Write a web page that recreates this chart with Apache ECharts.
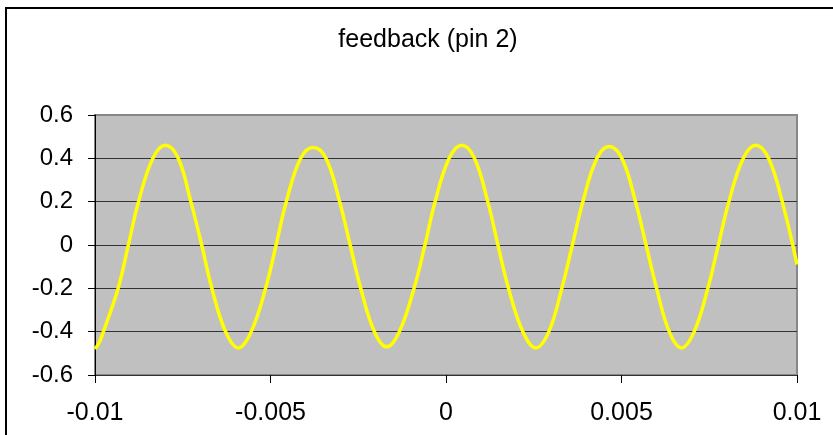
<!DOCTYPE html>
<html>
<head>
<meta charset="utf-8">
<script src="https://cdn.jsdelivr.net/npm/echarts@6/dist/echarts.min.js"></script>
<style>
  html, body { margin: 0; padding: 0; background: #fff; }
  #main { width: 833px; height: 435px; }
</style>
</head>
<body>
<div id="main"></div>
<script>
// time (s) and voltage points
var times = [
  -0.0100, -0.00988, -0.00976, -0.00934, -0.00905, -0.00876, -0.00835, -0.00799, -0.00763, -0.00727,
  -0.00696, -0.00667, -0.00628, -0.00592, -0.00555, -0.00514, -0.00484, -0.00455, -0.00414,
  -0.00378, -0.00342, -0.00303, -0.00273, -0.00243, -0.00204, -0.00169, -0.00133, -0.00091,
  -0.00060, -0.00031, 0.00009, 0.00045, 0.00081, 0.00119, 0.00148, 0.00178, 0.00219,
  0.00256, 0.00293, 0.00330, 0.00360, 0.00390, 0.00430, 0.00465, 0.00501, 0.00540,
  0.00570, 0.00600, 0.00636, 0.00671, 0.00707, 0.00746, 0.00776, 0.00806, 0.00847,
  0.00883, 0.00919, 0.00958, 0.0100
];
var volts = [
  -0.48, -0.45, -0.40, -0.20, 0.00, 0.20, 0.40, 0.46, 0.40, 0.20,
  0.00, -0.20, -0.40, -0.475, -0.40, -0.20, 0.00, 0.20, 0.40,
  0.45, 0.40, 0.20, 0.00, -0.20, -0.40, -0.47, -0.40, -0.20,
  0.00, 0.20, 0.40, 0.46, 0.40, 0.20, 0.00, -0.20, -0.40,
  -0.475, -0.40, -0.20, 0.00, 0.20, 0.40, 0.455, 0.40, 0.20,
  0.00, -0.20, -0.40, -0.475, -0.40, -0.20, 0.00, 0.20, 0.40,
  0.46, 0.40, 0.20, -0.09
];
var title = 'feedback (pin 2)';

var pts = [];
for (var i = 0; i < times.length; i++) {
  pts.push([times[i], volts[i]]);
}

var chart = echarts.init(document.getElementById('main'), null, { renderer: 'canvas' });

var font = 'Liberation Sans, Arial, sans-serif';

var option = {
  animation: false,
  backgroundColor: '#fff',
  title: {
    text: title,
    left: 423,
    top: 23,
    textAlign: 'center',
    textStyle: { fontFamily: font, fontSize: 25, fontWeight: 'normal', color: '#000' }
  },
  graphic: [{
    type: 'rect',
    shape: { x: 6, y: 8, width: 900, height: 500 },
    style: { fill: 'none', stroke: '#000', lineWidth: 2 },
    z: 100
  }],
  grid: {
    left: 95, right: 36, top: 115, bottom: 60,
    show: true,
    backgroundColor: '#c0c0c0',
    borderColor: '#888',
    borderWidth: 2
  },
  xAxis: {
    type: 'value',
    min: -0.01, max: 0.01, interval: 0.005,
    axisLine: { show: true, onZero: false, lineStyle: { color: '#333', width: 1 } },
    axisTick: { show: true, inside: false, length: 8, lineStyle: { color: '#000' } },
    axisLabel: { margin: 26, fontFamily: font, fontSize: 25, color: '#000' },
    splitLine: { show: false }
  },
  yAxis: {
    type: 'value',
    min: -0.6, max: 0.6, interval: 0.2,
    axisLine: { show: true, onZero: false, lineStyle: { color: '#000', width: 1 } },
    axisTick: { show: true, inside: false, length: 7, lineStyle: { color: '#000' } },
    axisLabel: { margin: 22, fontFamily: font, fontSize: 24, color: '#000' },
    splitLine: {
      show: true,
      lineStyle: { color: ['#333', '#333', '#333', '#333', '#333', '#333', '#888'], width: 1 }
    }
  },
  series: [{
    type: 'line',
    data: pts,
    showSymbol: false,
    smooth: 0.4,
    lineStyle: { color: '#ffff00', width: 3.5 },
    itemStyle: { color: '#ffff00' }
  }]
};

chart.setOption(option);
</script>
</body>
</html>
